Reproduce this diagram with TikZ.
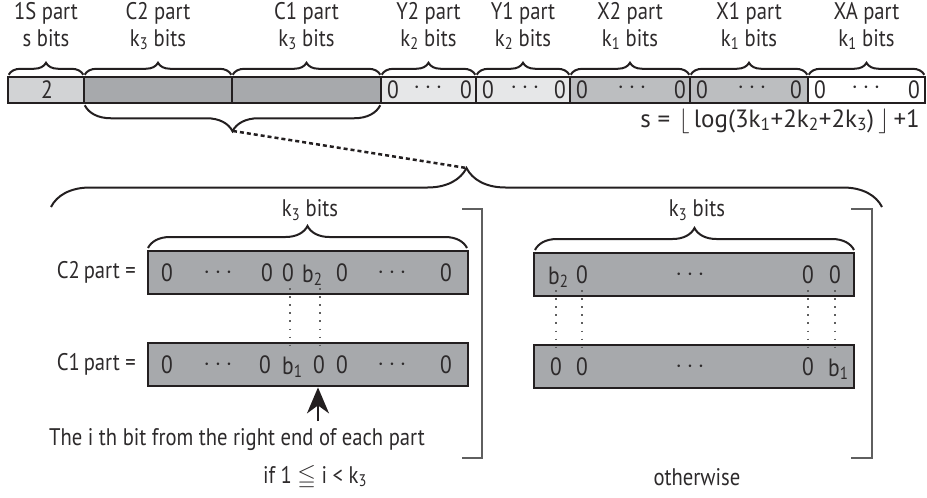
\documentclass[tikz,border=0pt]{standalone}
\usepackage{fontspec}
\setmainfont{PT Sans}[FakeStretch=0.86]
\newfontfamily\wide{PT Sans}
\usepackage{amssymb}
\usetikzlibrary{decorations.pathreplacing,arrows.meta}
\definecolor{lg}{RGB}{210,211,213}
\definecolor{dg}{RGB}{167,169,172}
\definecolor{vlg}{RGB}{230,231,232}
\definecolor{mg}{RGB}{188,190,192}
\definecolor{ink}{RGB}{35,31,32}
\definecolor{bk}{RGB}{95,95,95}
\definecolor{txt}{RGB}{45,42,43}
\newcommand\sbs[1]{\textsubscript{#1}}
\begin{document}
\begin{tikzpicture}[x=1pt,y=-1pt,
  every node/.style={text=txt,font=\fontsize{24}{27}\selectfont,inner sep=0pt},
  cell/.style={draw=ink,line width=2.5pt,minimum height=26pt,inner sep=0pt},
  bx/.style={draw=ink,line width=2.8pt,fill=dg,minimum width=320pt,minimum height=43pt},
  br/.style={draw=ink,line width=2pt,decorate,decoration={brace,amplitude=#1}},
  lab/.style={align=center},
  bit/.style={font=\fontsize{25}{27}\selectfont},
  dt/.style={draw=bk,line width=1.6pt,dash pattern=on 1.6pt off 6.5pt},
  bkt/.style={draw=bk,line width=2.4pt}]
\useasboundingbox (0,0) rectangle (927,498);
% top bar
\node[cell,fill=lg,minimum width=76pt] (s1) at (46,90) {};
\node[bit] (two) at (47,90) {2};
\node[cell,fill=dg,minimum width=148pt] (sc2) at (158,90) {};
\node[cell,fill=dg,minimum width=149pt] (sc1) at (306.5,90) {};
\node[cell,fill=vlg,minimum width=95pt] (sy2) at (428.5,90) {};
\node[cell,fill=vlg,minimum width=94pt] (sy1) at (523,90) {};
\node[cell,fill=mg,minimum width=120pt] (sx2) at (630,90) {};
\node[cell,fill=mg,minimum width=118pt] (sx1) at (749,90) {};
\node[cell,fill=white,minimum width=117pt] (sxa) at (866.5,90) {};
\foreach \n/\a/\b/\c in {y2/393/428/466, y1/488/525/560, x2/582/632/680, x1/702/752/796, xa/820/866/914}{
  \node[bit] (z\n a) at (\a,90) {0};
  \node[bit] (z\n b) at (\b,88) {$\cdots$};
  \node[bit] (z\n c) at (\c,90) {0};
}
% top braces and labels
\foreach \n/\t in {s1/{1S part\\s bits}, sc2/{C2 part\\k\sbs{3} bits}, sc1/{C1 part\\k\sbs{3} bits}, sy2/{Y2 part\\k\sbs{2} bits}, sy1/{Y1 part\\k\sbs{2} bits}, sx2/{X2 part\\k\sbs{1} bits}, sx1/{X1 part\\k\sbs{1} bits}, sxa/{XA part\\k\sbs{1} bits}}{
  \draw[br=12pt] ([xshift=2pt,yshift=1pt]\n.north west) -- ([xshift=-2pt,yshift=1pt]\n.north east);
  \node[lab,anchor=north] (l\n) at ([yshift=74pt]\n.north) {\t};
}
% brace under C2 and C1
\draw[br=26pt] ([xshift=-2pt,yshift=-1pt]sc1.south east) -- ([xshift=2pt,yshift=-1pt]sc2.south west);
\coordinate (tipA) at (233,131);
\node[anchor=base east,font=\wide\fontsize{25}{27}\selectfont] (form) at (920,127) {s =\,\,$\lfloor$\,log(3k\sbs{1}+2k\sbs{2}+2k\sbs{3})\,$\rfloor$\,+1};
% big brace
\draw[br=39pt] (51,207) -- (882,207);
\coordinate (tipB) at (466.5,168);
\draw[ink,line width=2.5pt,dash pattern=on 4pt off 3pt] (tipA) -- (tipB);
% left section
\node (kl) at (310,210) {k\sbs{3} bits};
\node[bx] (c2l) at (308,272.5) {};
\node[bx] (c1l) at (308,364.5) {};
\draw[br=22pt] (148,248) -- (467,248);
\node[anchor=east] (lc2) at (136,272) {C2\,part =};
\node[anchor=east] (lc1) at (136,364) {C1\,part =};
\foreach \x/\t [count=\i] in {167/0,218/$\cdots$,267/0,288/0,342/0,392/$\cdots$,446/0}{
  \node[bit] (a\i) at (\x,273) {\t};}
\node[bit,anchor=base west] (a8) at (302,282) {b\sbs{2}};
\foreach \x/\t [count=\i] in {167/0,218/$\cdots$,265/0,319/0,342/0,392/$\cdots$,446/0}{
  \node[bit] (b\i) at (\x,365) {\t};}
\node[bit,anchor=base west] (b8) at (282,374) {b\sbs{1}};
\draw[dt] (290,288) -- (290,350);
\draw[dt] (320,288) -- (320,350);
\coordinate (arrs) at (318,421);
\draw[ink,line width=2.4pt,-{Stealth[length=26pt,width=22pt,inset=8pt]}] (arrs) -- (arrs |- c1l.south);
\node (ith) at (237,440) {The i th bit from the right end of each part};
\node (cond) at (315,477) {if 1 $\leqq$ i < k\sbs{3}};
\draw[bkt] (462,209) -- (482,209) -- (482,458) -- (462,458);
% right section
\node (kr) at (697,210) {k\sbs{3} bits};
\node[bx] (c2r) at (694,274.5) {};
\node[bx] (c1r) at (694,366.5) {};
\draw[br=22pt] (535,250) -- (854,250);
\node[bit,anchor=base west] (r1) at (548,284) {b\sbs{2}};
\foreach \x/\t [count=\i] in {582/0,690/$\cdots$,808/0,835/0}{
  \node[bit] (r\i x) at (\x,275) {\t};}
\foreach \x/\t [count=\i] in {556/0,582/0,690/$\cdots$,808/0}{
  \node[bit] (q\i x) at (\x,367) {\t};}
\node[bit,anchor=base west] (q5) at (828,376) {b\sbs{1}};
\foreach \x in {556,582,808,835}{\draw[dt] (\x,290) -- (\x,352);}
\node (oth) at (697,477) {otherwise};
\draw[bkt] (851,209) -- (872,209) -- (872,458) -- (851,458);
\end{tikzpicture}
\end{document}
